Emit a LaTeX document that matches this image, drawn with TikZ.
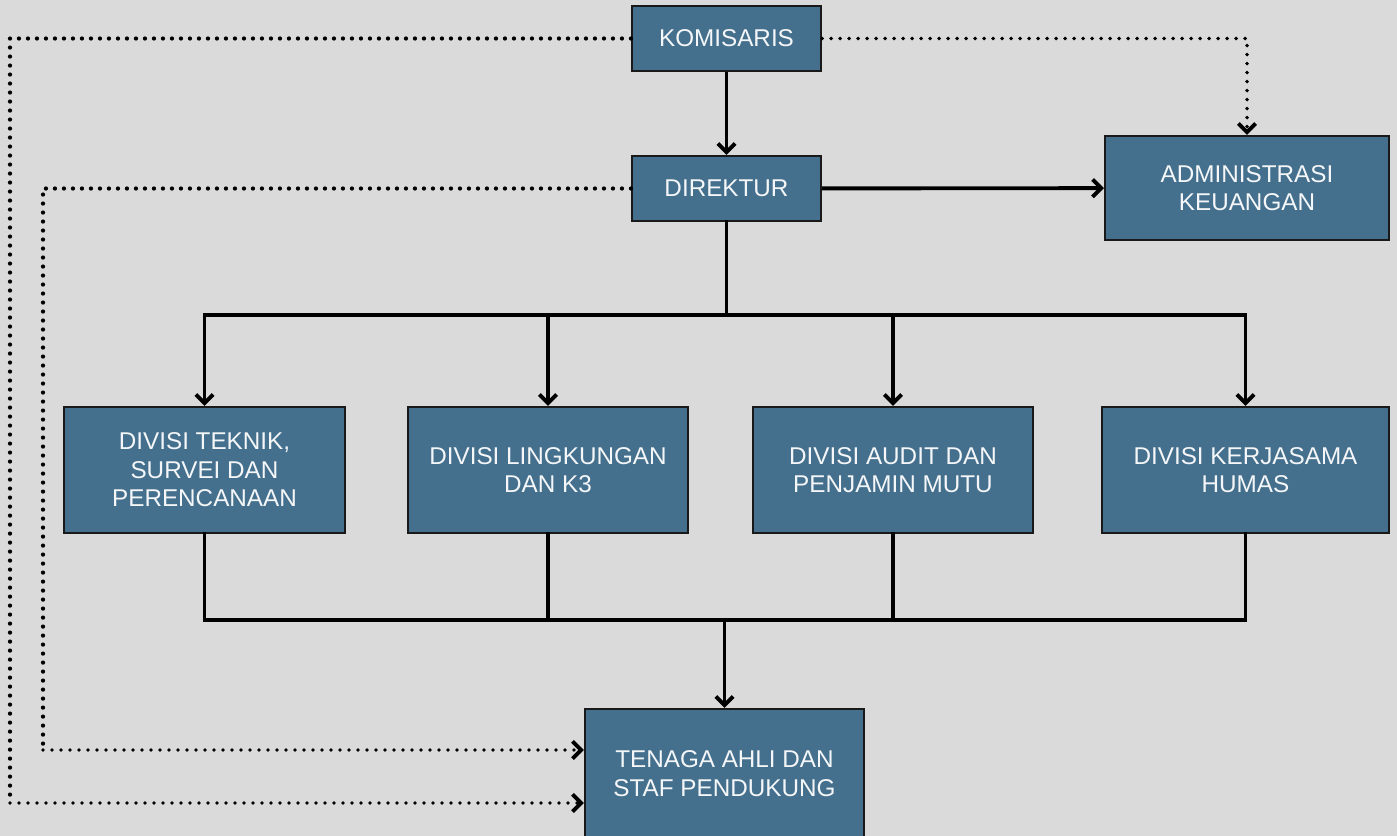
\documentclass[tikz,border=0pt]{standalone}
\usepackage{fontspec}
\setmainfont{Liberation Sans}
\usepackage{xcolor}
\usetikzlibrary{arrows.meta,calc,positioning}
\definecolor{bgcol}{HTML}{DADADA}
\definecolor{boxcol}{HTML}{44708E}
\definecolor{txtcol}{HTML}{F4F6F8}
\begin{document}
\begin{tikzpicture}[x=0.75pt,y=-0.75pt,
  unit/.style={draw=black!90,line width=1.6pt,fill=boxcol,text=txtcol,align=center,
    inner sep=2pt,font=\fontsize{18.2}{21.3}\selectfont},
  line/.style={line width=2.9pt,line cap=rect},
  arr/.style={line width=2.9pt,-{Straight Barb[length=6.5pt,width=13pt]}},
  dots/.style={line width=3.2pt,line cap=round,dash pattern=on 0pt off 6.75pt}]
\path[use as bounding box,fill=bgcol] (0,0) rectangle (1397,836);
% boxes
\node (komisaris) at (726.5,38.5)[unit,minimum width=141.75pt,minimum height=48.75pt] {KOMISARIS};
\node (direktur) at (726.5,188.5)[unit,minimum width=141.75pt,minimum height=48.75pt] {DIREKTUR};
\node (admin) at (1247,188)[unit,minimum width=213pt,minimum height=78pt] {ADMINISTRASI\\KEUANGAN};
\node (teknik) at (204.5,470)[unit,minimum width=210.75pt,minimum height=94.5pt] {DIVISI TEKNIK,\\SURVEI DAN\\PERENCANAAN};
\node (lingkungan) at (548,470)[unit,minimum width=210pt,minimum height=94.5pt] {DIVISI LINGKUNGAN\\DAN K3};
\node (audit) at (893,470)[unit,minimum width=210pt,minimum height=94.5pt] {DIVISI AUDIT DAN\\PENJAMIN MUTU};
\node (humas) at (1245.5,470)[unit,minimum width=215.25pt,minimum height=94.5pt] {DIVISI KERJASAMA\\HUMAS};
\node (tenaga) at (724.5,773.5)[unit,minimum width=209.25pt,minimum height=96.75pt] {TENAGA AHLI DAN\\STAF PENDUKUNG};
\coordinate (bus1) at (0,315);
\coordinate (bus2) at (0,620);
\coordinate (k1) at (10,803);
\coordinate (d1) at (43,750);
% solid lines
\draw[arr] (komisaris) -- (direktur);
\draw[arr] (direktur) -- (admin);
\draw[line] (direktur) -- (direktur |- bus1);
\draw[line] (teknik |- bus1) -- (humas |- bus1);
\foreach \n in {teknik,lingkungan,audit,humas}
  \draw[arr] (\n |- bus1) -- (\n);
\foreach \n in {teknik,lingkungan,audit,humas}
  \draw[line] (\n) -- (\n |- bus2);
\draw[line] (teknik |- bus2) -- (humas |- bus2);
\draw[arr] (tenaga |- bus2) -- (tenaga);
% dotted lines
\draw[dots] (komisaris.west) -| (k1);
\draw[dots,arr] (k1) -- (k1 -| tenaga.west);
\draw[dots] (direktur.west) -| (d1);
\draw[dots,arr] (d1) -- (d1 -| tenaga.west);
\draw[dots,arr] (komisaris) -| (admin);
\end{tikzpicture}
\end{document}
